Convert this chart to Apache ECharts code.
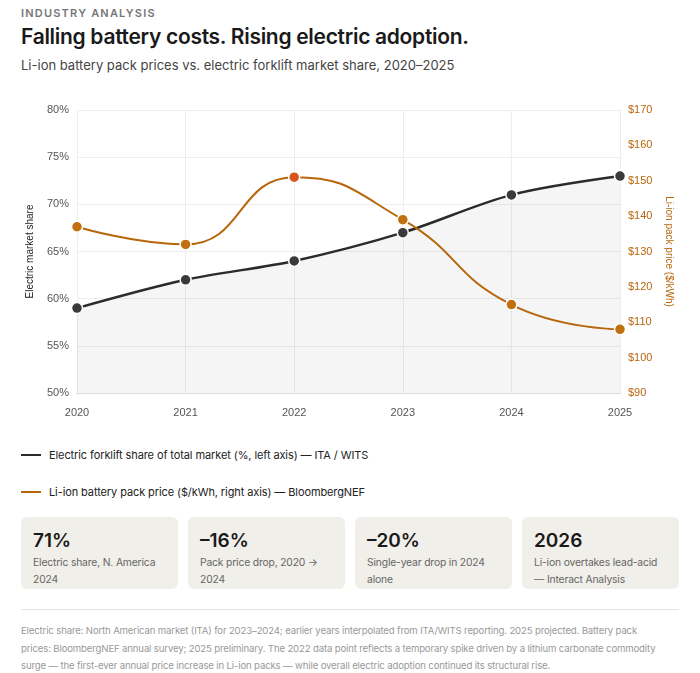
<!DOCTYPE html>
<html>
<head>
<meta charset="utf-8">
<script src="https://cdn.jsdelivr.net/npm/echarts@6/dist/echarts.min.js"></script>
<style>
body { margin: 0; background: #fff; font-family: Inter, "Noto Sans", sans-serif; color: #1a1a1a; width: 700px; }
.kicker { position: absolute; left: 21px; top: 6px; font-size: 11px; letter-spacing: 1.2px; color: #777; font-weight: 600; }
.title { position: absolute; left: 21px; top: 24px; font-size: 21px; font-weight: 600; letter-spacing: -0.3px; }
.sub { position: absolute; left: 21px; top: 57px; font-size: 13px; color: #444; }
#chart { position: absolute; left: 0; top: 95px; width: 700px; height: 330px; }
.leg { position: absolute; left: 21px; font-size: 11px; color: #222; display: flex; align-items: center; letter-spacing: -0.1px; }
.leg i { display: inline-block; width: 20px; height: 2.5px; margin-right: 8px; }
.cards { position: absolute; left: 21px; top: 517px; width: 658px; display: flex; gap: 10px; }
.card { flex: 1; background: #f1efe9; border-radius: 6px; height: 72px; padding: 10px 12px; box-sizing: border-box; }
.card b { display: block; font-size: 19px; font-weight: 600; margin-top: 2px; }
.card span { display: block; font-size: 10.3px; color: #666; line-height: 17px; margin-top: 2px; letter-spacing: -0.15px; }
.rule { position: absolute; left: 21px; top: 609px; width: 658px; border-top: 1px solid #e6e4df; }
.foot { position: absolute; left: 21px; top: 622px; width: 646px; font-size: 9.6px; line-height: 17.5px; color: #999; letter-spacing: -0.15px; }
</style>
</head>
<body>
<div class="kicker">INDUSTRY ANALYSIS</div>
<div class="title">Falling battery costs. Rising electric adoption.</div>
<div class="sub">Li-ion battery pack prices vs. electric forklift market share, 2020–2025</div>
<div id="chart"></div>
<div class="leg" style="top:448px"><i style="background:#2b2b2b"></i>Electric forklift share of total market (%, left axis) — ITA / WITS</div>
<div class="leg" style="top:485px"><i style="background:#b8660b"></i>Li-ion battery pack price ($/kWh, right axis) — BloombergNEF</div>
<div class="cards">
  <div class="card"><b>71%</b><span>Electric share, N. America 2024</span></div>
  <div class="card"><b>–16%</b><span>Pack price drop, 2020 → 2024</span></div>
  <div class="card"><b>–20%</b><span>Single-year drop in 2024 alone</span></div>
  <div class="card"><b>2026</b><span>Li-ion overtakes lead-acid — Interact Analysis</span></div>
</div>
<div class="rule"></div>
<div class="foot">Electric share: North American market (ITA) for 2023–2024; earlier years interpolated from ITA/WITS reporting. 2025 projected. Battery pack prices: BloombergNEF annual survey; 2025 preliminary. The 2022 data point reflects a temporary spike driven by a lithium carbonate commodity surge — the first-ever annual price increase in Li-ion packs — while overall electric adoption continued its structural rise.</div>
<script>
var years = ['2020', '2021', '2022', '2023', '2024', '2025'];
var electricShare = [59, 62, 64, 67, 71, 73];
var packPrice = [137, 132, 151, 139, 115, 108];

var chart = echarts.init(document.getElementById('chart'));
chart.setOption({
    animation: false,
    grid: { left: 77, right: 80, top: 15, bottom: 32 },
    xAxis: {
        type: 'category',
        boundaryGap: false,
        data: years,
        axisLine: { lineStyle: { color: '#ddd' } },
        axisTick: { show: false },
        axisLabel: { color: '#555', fontSize: 11, margin: 14 },
        splitLine: { show: true, lineStyle: { color: '#eee' } }
    },
    yAxis: [
        {
            type: 'value', min: 50, max: 80, interval: 5,
            name: 'Electric market share', nameLocation: 'middle', nameGap: 42,
            nameTextStyle: { color: '#222', fontSize: 10 },
            axisLabel: { formatter: '{value}%', color: '#555', fontSize: 11 },
            axisLine: { show: false }, axisTick: { show: false },
            splitLine: { lineStyle: { color: '#eee' } }
        },
        {
            type: 'value', min: 90, max: 170, interval: 10,
            name: 'Li-ion pack price ($/kWh)', nameLocation: 'middle', nameGap: 44, nameRotate: -90,
            nameTextStyle: { color: '#b8660b', fontSize: 10 },
            axisLabel: { formatter: '${value}', color: '#b8660b', fontSize: 11 },
            axisLine: { show: false }, axisTick: { show: false },
            splitLine: { show: false }
        }
    ],
    series: [
        {
            name: 'Electric share',
            type: 'line',
            data: electricShare,
            smooth: 0.3,
            symbol: 'circle', symbolSize: 11,
            lineStyle: { color: '#2b2b2b', width: 2.5 },
            itemStyle: { color: '#3a3a3a', borderColor: '#fff', borderWidth: 1.5 },
            areaStyle: { color: 'rgba(0,0,0,0.055)' },
            z: 3
        },
        {
            name: 'Pack price',
            type: 'line',
            yAxisIndex: 1,
            data: packPrice.map(function (v, i) {
                return i === 2 ? { value: v, itemStyle: { color: '#d9541e' } } : v;
            }),
            smooth: 0.5,
            symbol: 'circle', symbolSize: 11,
            lineStyle: { color: '#b8660b', width: 2 },
            itemStyle: { color: '#c0700f', borderColor: '#fff', borderWidth: 1.5 },
            z: 4
        }
    ]
});
</script>
</body>
</html>
